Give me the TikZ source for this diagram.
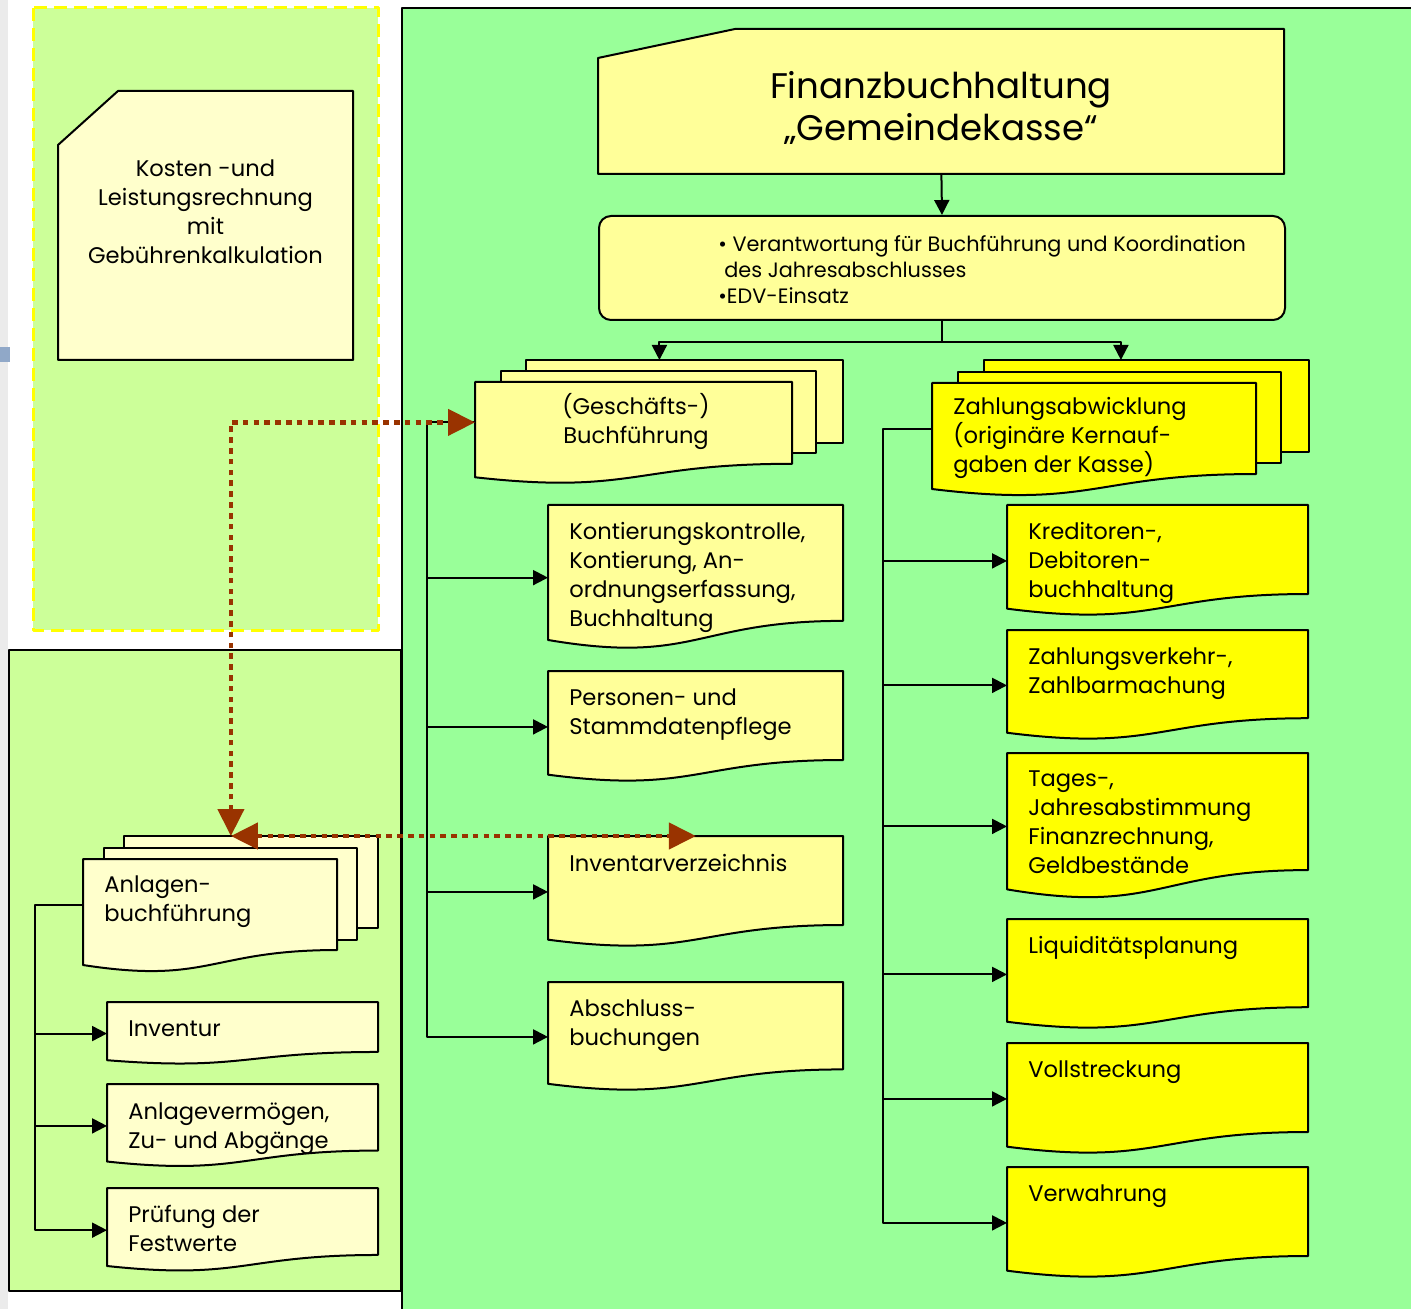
\documentclass[tikz,border=0pt]{standalone}
\usepackage{fontspec}
\setmainfont{Poppins}
\usetikzlibrary{arrows.meta, calc}
\tikzset{>={Triangle[length=7.5pt,width=7.5pt]}}

\definecolor{areagreen}{HTML}{99FF99}
\definecolor{sidegreen}{HTML}{CCFF99}
\definecolor{docyellow}{HTML}{FFFF99}
\definecolor{paleyellow}{HTML}{FFFFCC}
\definecolor{kasseyellow}{HTML}{FFFF00}
\definecolor{linkred}{HTML}{993300}
\definecolor{winblue}{HTML}{90A8C8}

\tikzset{
  outline/.style={line width=1pt},
  area/.style={draw=none, inner sep=0pt, anchor=north west},
  txt/.style={inner sep=0pt, anchor=north west, align=left,
    font=\fontsize{11.3pt}{14.5pt}\selectfont,
    execute at begin node={\rule{0pt}{11pt}}},
  conn/.style={line width=1pt},
  link/.style={linkred, line width=2.2pt, dash pattern=on 2.8pt off 2.6pt,
    {Triangle[length=13.5pt,width=13pt]}-{Triangle[length=13.5pt,width=13pt]}}
}

% document shape: fill, x, y, w, h
\newcommand{\docshape}[5]{%
  \filldraw[fill=#1, outline] (#2,#3) -- ({#2+#4},#3) -- ({#2+#4},{#3+0.802*#5})
    .. controls ({#2+0.5*#4},{#3+0.802*#5}) and ({#2+0.5*#4},{#3+1.1075*#5})
    .. (#2,{#3+0.934*#5}) -- cycle;}
% invisible area for connecting: name, x, y, w, h
\newcommand{\docarea}[5]{%
  \node[area, minimum width={#4*0.5pt}, minimum height={#5*0.5pt}] (#1) at (#2,#3) {};}

\begin{document}
\begin{tikzpicture}[x=0.5pt, y=-0.5pt, line join=round]
    \useasboundingbox (0,0) rectangle (1411,1309);
    \fill[black!8] (0,0) rectangle (8,1309);
    \fill[winblue] (0,347) rectangle (10,362);

    % areas
    \draw[fill=areagreen, line width=0.7pt] (402,8) rectangle (1440,1340);
    \draw[fill=sidegreen, draw=kasseyellow, line width=1.5pt, dash pattern=on 6.5pt off 3.5pt] (33,8) rectangle (378,630);
    \draw[fill=sidegreen, line width=0.7pt] (9,650) rectangle (401,1291);

    % Kosten- und Leistungsrechnung
    \filldraw[fill=paleyellow, outline] (58,145) -- (118,91) -- (353,91) -- (353,360) -- (58,360) -- cycle;
    \docarea{kosten}{58}{91}{295}{269}
    \node[txt, anchor=north, align=center] (kosten-t) at (205.5,159) {Kosten -und\\Leistungsrechnung\\mit\\Gebührenkalkulation};

    % Finanzbuchhaltung
    \filldraw[fill=docyellow, outline] (598,58) -- (735,29) -- (1284,29) -- (1284,174) -- (598,174) -- cycle;
    \docarea{finanz}{598}{29}{686}{145}
    \node[txt, anchor=north, align=center, font=\fontsize{17.8pt}{21pt}\selectfont,
      execute at begin node={\rule{0pt}{17pt}}] (finanz-t) at (941,71) {Finanzbuchhaltung\\„Gemeindekasse“};

    \node[area, draw, fill=docyellow, outline, rounded corners=6pt,
      minimum width=343pt, minimum height=52pt] (verant) at (598,215) {};
    \node[txt, font=\fontsize{10.4pt}{13pt}\selectfont, execute at begin node={\rule{0pt}{10pt}}] (verant-t) at (718,235)
      {\textbullet\ Verantwortung für Buchführung und Koordination\\\hspace{3pt}des Jahresabschlusses\\\textbullet EDV-Einsatz};

    % (Geschaefts-) Buchfuehrung
    \filldraw[fill=docyellow, outline] (526,360) rectangle (843,443);
    \filldraw[fill=docyellow, outline] (501,371) rectangle (816,453);
    \docshape{docyellow}{475}{382}{317}{102}
    \docarea{gesch}{475}{360}{368}{124}
    \node[txt, anchor=north, align=center] (gesch-t) at (636,393) {(Geschäfts-)\\Buchführung};

    \docshape{docyellow}{548}{505}{295}{144.5}
    \docarea{kont}{548}{505}{295}{144.5}
    \node[txt] (kont-t) at (569,522) {Kontierungskontrolle,\\Kontierung, An-\\ordnungserfassung,\\Buchhaltung};

    \docshape{docyellow}{548}{671}{295}{111}
    \docarea{pers}{548}{671}{295}{111}
    \node[txt] (pers-t) at (569,688) {Personen- und\\Stammdatenpflege};

    \docshape{docyellow}{548}{836}{295}{111}
    \docarea{inv}{548}{836}{295}{111}
    \node[txt] (inv-t) at (569,849) {Inventarverzeichnis};

    \docshape{docyellow}{548}{982}{295}{109}
    \docarea{absch}{548}{982}{295}{109}
    \node[txt] (absch-t) at (569,999) {Abschluss-\\buchungen};

    % Zahlungsabwicklung
    \filldraw[fill=kasseyellow, outline] (984,360) rectangle (1309,452);
    \filldraw[fill=kasseyellow, outline] (958,372) rectangle (1281,463);
    \docshape{kasseyellow}{932}{383}{324}{113.5}
    \docarea{zahl}{932}{360}{377}{137}
    \node[txt] (zahl-t) at (953,397) {Zahlungsabwicklung\\(originäre Kernauf-\\gaben der Kasse)};

    \docshape{kasseyellow}{1007}{505}{301}{111}
    \docarea{kred}{1007}{505}{301}{111}
    \node[txt] (kred-t) at (1028,522) {Kreditoren-,\\Debitoren-\\buchhaltung};

    \docshape{kasseyellow}{1007}{630}{301}{110}
    \docarea{zverk}{1007}{630}{301}{110}
    \node[txt] (zverk-t) at (1028,647) {Zahlungsverkehr-,\\Zahlbarmachung};

    \docshape{kasseyellow}{1007}{753}{301}{146}
    \docarea{tages}{1007}{753}{301}{146}
    \node[txt] (tages-t) at (1028,770) {Tages-,\\Jahresabstimmung\\Finanzrechnung,\\Geldbestände};

    \docshape{kasseyellow}{1007}{919}{301}{110}
    \docarea{liqu}{1007}{919}{301}{110}
    \node[txt] (liqu-t) at (1028,931) {Liquiditätsplanung};

    \docshape{kasseyellow}{1007}{1043}{301}{111}
    \docarea{voll}{1007}{1043}{301}{111}
    \node[txt] (voll-t) at (1028,1055) {Vollstreckung};

    \docshape{kasseyellow}{1007}{1167}{301}{111}
    \docarea{verw}{1007}{1167}{301}{111}
    \node[txt] (verw-t) at (1028,1179) {Verwahrung};

    % Anlagenbuchfuehrung
    \filldraw[fill=paleyellow, outline] (124,836) rectangle (378,928);
    \filldraw[fill=paleyellow, outline] (104,848) rectangle (357,940);
    \docshape{paleyellow}{83}{859}{254}{113.5}
    \docarea{anl}{83}{836}{295}{138}
    \node[txt] (anl-t) at (104,875) {Anlagen-\\buchführung};

    \docshape{paleyellow}{107}{1002}{271}{62.3}
    \docarea{invent}{107}{1002}{271}{62.3}
    \node[txt] (invent-t) at (128,1014) {Inventur};

    \docshape{paleyellow}{107}{1084}{271}{83}
    \docarea{anlverm}{107}{1084}{271}{83}
    \node[txt] (anlverm-t) at (128,1102) {Anlagevermögen,\\Zu- und Abgänge};

    \docshape{paleyellow}{107}{1188}{271}{83.5}
    \docarea{pruef}{107}{1188}{271}{83.5}
    \node[txt] (pruef-t) at (128,1205) {Prüfung der\\Festwerte};

    % connectors
    \draw[conn, ->] (finanz.south) -- (verant.north);
    \draw[conn] (verant.south) -- ++(0,21) coordinate (fork);
    \draw[conn, ->] (fork) -| (gesch.north);
    \draw[conn, ->] (fork) -| (zahl.north);

    \draw[conn, ->] (gesch.west) -- ++(-48,0) coordinate (gspine) |- (absch.west);
    \foreach \n in {kont,pers,inv}
        \draw[conn, ->] (gspine |- \n.west) -- (\n.west);

    \draw[conn, ->] (zahl.west) -- ++(-49,0) coordinate (zspine) |- (verw.west);
    \foreach \n in {kred,zverk,tages,liqu,voll}
        \draw[conn, ->] (zspine |- \n.west) -- (\n.west);

    \draw[conn, ->] (anl.west) -- ++(-48,0) coordinate (aspine) |- (pruef.west);
    \foreach \n in {invent,anlverm}
        \draw[conn, ->] (aspine |- \n.west) -- (\n.west);

    % links between the areas
    \draw[link] (anl.north) -- (anl.north |- gesch.west) -- (gesch.west);
    \draw[link] (anl.north) -- (inv.north);

\end{tikzpicture}
\end{document}
